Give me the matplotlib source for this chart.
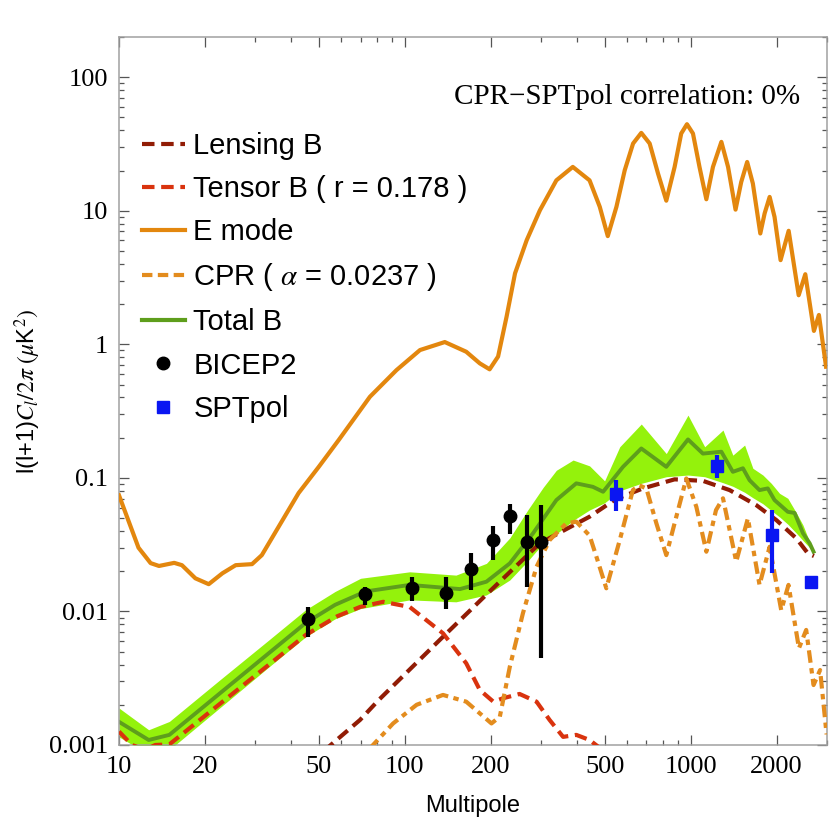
import matplotlib
matplotlib.use("Agg")
import matplotlib.pyplot as plt
from matplotlib.lines import Line2D
from matplotlib.ticker import FixedLocator, NullFormatter

plt.rcParams['mathtext.fontset'] = 'stix'

# E-mode spectrum
emode_l = [10, 11.7, 12.9, 13.8, 15.6, 16.6, 18.5, 20.6, 23, 25.6, 29.2, 31.6, 42.5, 50,
           58.7, 75.5, 93.5, 113, 138, 164, 183, 198, 212, 227, 243, 267, 297, 339, 387,
           443, 481, 513, 550, 588, 629, 672, 719, 769, 822, 879, 927, 971, 1019, 1074,
           1135, 1197, 1281, 1352, 1436, 1503, 1577, 1651, 1753, 1815, 1890, 1966, 2064,
           2203, 2388, 2519, 2700, 2811, 2977]
emode_v = [0.074, 0.030, 0.023, 0.0219, 0.0231, 0.0222, 0.0177, 0.016, 0.0193, 0.0222,
           0.0226, 0.0264, 0.077, 0.121, 0.192, 0.405, 0.641, 0.906, 1.04, 0.88, 0.72,
           0.65, 0.81, 1.61, 3.40, 6.03, 10.1, 16.9, 21.3, 16.9, 10.7, 6.46, 10.7, 20.1,
           31.9, 38.3, 31.9, 19.0, 11.9, 21.3, 37.9, 44.5, 37.9, 21.3, 12.2, 21.3, 32.8,
           21.3, 10.2, 16.4, 23.2, 16.0, 6.76, 9.55, 12.7, 9.0, 4.27, 7.08, 2.33, 3.35,
           1.26, 1.66, 0.68]

# Total B uncertainty band
band_l = [10, 12.7, 15, 22.4, 33.4, 45, 57, 70, 104, 151, 193, 233, 270, 305, 339, 388,
          443, 500, 565, 672, 822, 979, 1120, 1298, 1405, 1545, 1651, 1790, 1915, 2047,
          2188, 2345, 2472, 2692]
band_hi = [0.00189, 0.0013, 0.0015, 0.00304, 0.0061, 0.0103, 0.0141, 0.0177, 0.0198,
           0.0187, 0.0229, 0.0355, 0.058, 0.085, 0.114, 0.136, 0.123, 0.095, 0.171, 0.253,
           0.152, 0.295, 0.171, 0.228, 0.148, 0.176, 0.118, 0.105, 0.091, 0.0766, 0.0703,
           0.0546, 0.0443, 0.028]
band_lo = [0.00115, 0.00085, 0.00092, 0.00188, 0.00383, 0.00646, 0.0088, 0.0105, 0.0122,
           0.0118, 0.0133, 0.0172, 0.024, 0.0324, 0.038, 0.048, 0.0575, 0.065, 0.08,
           0.091, 0.102, 0.105, 0.102, 0.092, 0.0865, 0.078, 0.071, 0.064, 0.057, 0.051,
           0.045, 0.0385, 0.034, 0.028]

# Total B
total_l = [10, 12.7, 15, 22.4, 33.4, 45, 57, 72.8, 104, 156, 193, 233, 281, 339, 398, 455,
           494, 580, 672, 822, 979, 1104, 1281, 1405, 1524, 1608, 1742, 1862, 1966, 2188,
           2311, 2472, 2609, 2692]
total_v = [0.00149, 0.00109, 0.00119, 0.00241, 0.00486, 0.0082, 0.0112, 0.0141, 0.0158,
           0.0147, 0.0167, 0.0229, 0.0385, 0.0682, 0.091, 0.0857, 0.0787, 0.121, 0.166,
           0.121, 0.194, 0.152, 0.157, 0.111, 0.118, 0.096, 0.081, 0.0834, 0.0682, 0.0557,
           0.0546, 0.0385, 0.0324, 0.028]

# Tensor B (r = 0.178)
tensor_l = [10, 11.1, 12.3, 13.4, 15, 22.4, 33.4, 45, 58, 69.7, 84, 104, 136, 164, 183,
            204, 221, 252, 289, 321, 358, 398, 443, 481]
tensor_v = [0.00126, 0.00100, 0.00092, 0.00100, 0.00101, 0.00201, 0.00398, 0.00666,
            0.0092, 0.0108, 0.0118, 0.0108, 0.00686, 0.00409, 0.00258, 0.00211, 0.00224,
            0.00241, 0.00211, 0.00154, 0.00115, 0.00119, 0.00109, 0.00095]

# Lensing B
lens_l = [52, 69.7, 81, 136, 200, 297, 380, 443, 545, 681, 879, 1104, 1369, 1697, 1995,
          2345, 2572, 2700]
lens_v = [0.0009, 0.00154, 0.00217, 0.00646, 0.0144, 0.0324, 0.043, 0.0512, 0.069,
          0.0834, 0.0975, 0.095, 0.081, 0.0625, 0.0483, 0.0352, 0.0272, 0.026]

# CPR (alpha = 0.0237)
cpr_l = [75, 91, 110, 136, 164, 201, 215, 233, 259, 289, 321, 367, 398, 443, 470, 507,
         565, 628, 660, 700, 759, 822, 891, 966, 1047, 1135, 1227, 1298, 1444, 1586, 1742,
         1890, 2075, 2200, 2393, 2537, 2692, 2838, 2990]
cpr_v = [0.00093, 0.00145, 0.002, 0.00237, 0.00211, 0.00145, 0.00163, 0.00385, 0.0097,
         0.0216, 0.0342, 0.0456, 0.047, 0.037, 0.025, 0.0149, 0.0342, 0.081, 0.088,
         0.0834, 0.0456, 0.0264, 0.0512, 0.099, 0.0608, 0.028, 0.0574, 0.0703, 0.0236,
         0.0498, 0.0158, 0.0305, 0.0102, 0.0158, 0.0053, 0.00727, 0.00281, 0.00364, 0.0012]

# BICEP2 band powers
bicep_l = [45.9, 72.5, 106, 139, 171, 203, 234, 267, 299]
bicep_v = [0.00873, 0.0135, 0.0151, 0.0138, 0.0207, 0.0342, 0.0517, 0.0333, 0.0333]
bicep_hi = [0.0108, 0.0153, 0.0181, 0.0181, 0.0272, 0.0435, 0.0637, 0.0527, 0.0625]
bicep_lo = [0.00643, 0.0112, 0.0120, 0.0104, 0.0144, 0.0244, 0.0379, 0.0153, 0.00446]

# SPTpol band powers
spt_l = [547, 1238, 1928, 2630]
spt_v = [0.0757, 0.122, 0.0373, 0.0167]
spt_hi = [0.096, 0.148, 0.0575, 0.0167]
spt_lo = [0.0568, 0.100, 0.0194, 0.0167]

c_emode = '#E3870E'
c_lens = '#911C05'
c_tensor = '#D9330E'
c_cpr = '#E38C1E'
c_total = '#5E9E1C'
c_band = '#94F20C'
c_spt = '#0A16F2'

fig = plt.figure(figsize=(8.34, 8.21), dpi=100)
ax = fig.add_axes([0.1427, 0.0926, 0.8489, 0.8623])

ax.fill_between(band_l, band_lo, band_hi, color=c_band, lw=0, zorder=1)
ax.plot(total_l, total_v, color=c_total, lw=2.8, zorder=2)
ax.plot(emode_l, emode_v, color=c_emode, lw=3, zorder=3)
ax.plot(tensor_l, tensor_v, color=c_tensor, lw=3, ls=(0, (3, 1.6)), zorder=3)
ax.plot(lens_l, lens_v, color=c_lens, lw=3, ls=(0, (3, 1.6)), zorder=3)
ax.plot(cpr_l, cpr_v, color=c_cpr, lw=3, ls=(0, (3, 1.3, 1.3, 1.3)), zorder=3)

b_err = [[v - lo for v, lo in zip(bicep_v, bicep_lo)], [hi - v for v, hi in zip(bicep_v, bicep_hi)]]
ax.errorbar(bicep_l, bicep_v, yerr=b_err, fmt='o', color='black', ms=9, elinewidth=3,
            capsize=0, zorder=5)
s_err = [[v - lo for v, lo in zip(spt_v, spt_lo)], [hi - v for v, hi in zip(spt_v, spt_hi)]]
ax.errorbar(spt_l, spt_v, yerr=s_err, fmt='s', color=c_spt, ms=9, elinewidth=3,
            capsize=0, zorder=5)

ax.set_xscale('log')
ax.set_yscale('log')
ax.set_xlim(10, 3000)
ax.set_ylim(0.001, 200)

xt = [10, 20, 50, 100, 200, 500, 1000, 2000]
ax.xaxis.set_major_locator(FixedLocator(xt))
ax.set_xticklabels([str(t) for t in xt])
xminor = [m * d for d in (10, 100, 1000) for m in range(2, 10)]
ax.xaxis.set_minor_locator(FixedLocator(xminor))
ax.xaxis.set_minor_formatter(NullFormatter())
yt = [0.001, 0.01, 0.1, 1, 10, 100]
ax.yaxis.set_major_locator(FixedLocator(yt))
ax.set_yticklabels(['0.001', '0.01', '0.1', '1', '10', '100'])
yminor = [m * d for d in (0.001, 0.01, 0.1, 1, 10, 100) for m in range(2, 10)]
ax.yaxis.set_minor_locator(FixedLocator(yminor))
ax.yaxis.set_minor_formatter(NullFormatter())

ax.tick_params(which='both', direction='in', top=True, right=True, color='#555555', width=0.9)
ax.tick_params(which='major', length=7, labelsize=19, pad=8)
ax.tick_params(which='minor', length=3.5)
for lab in ax.get_xticklabels() + ax.get_yticklabels():
    lab.set_family('Liberation Serif')
for sp in ax.spines.values():
    sp.set_color('#A0A0A0')
    sp.set_linewidth(1.1)

ax.set_xlabel('Multipole', family='Liberation Sans', fontsize=17, labelpad=12)
ax.set_ylabel(r'l(l+1)$C_l/2\pi\ (\mu$K$^2)$', family='Liberation Sans', fontsize=17, labelpad=4)

ax.text(0.962, 0.915, 'CPR\u2212SPTpol correlation: 0%', transform=ax.transAxes,
        ha='right', va='center', family='Liberation Serif', fontsize=21)

handles = [
    Line2D([], [], color=c_lens, lw=3, ls=(0, (3, 1.6))),
    Line2D([], [], color=c_tensor, lw=3, ls=(0, (3, 1.6))),
    Line2D([], [], color=c_emode, lw=3),
    Line2D([], [], color=c_cpr, lw=3, ls=(0, (2.5, 1.3))),
    Line2D([], [], color=c_total, lw=3),
    Line2D([], [], color='black', marker='o', ls='none', ms=9),
    Line2D([], [], color=c_spt, marker='s', ls='none', ms=8),
]
labels = ['Lensing B', 'Tensor B ( r = 0.178 )', 'E mode', r'CPR ( $\alpha$ = 0.0237 )',
          'Total B', 'BICEP2', 'SPTpol']
ax.legend(handles, labels, loc='upper left', bbox_to_anchor=(0.004, 0.895), frameon=False,
          prop={'family': 'Liberation Sans', 'size': 21}, handlelength=1.45,
          handletextpad=0.3, labelspacing=0.52, borderaxespad=0.3)

fig.savefig('out.png', dpi=100)
